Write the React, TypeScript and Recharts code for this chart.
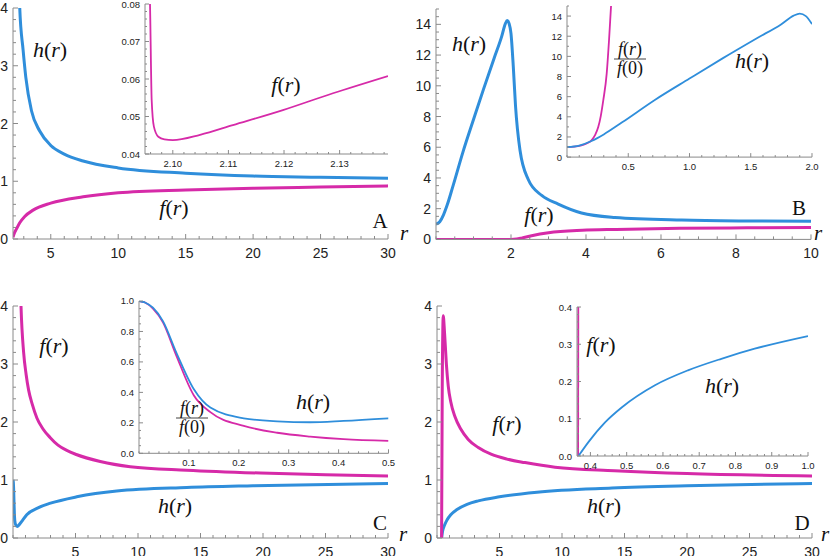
import React from "react";
import { LineChart, Line, XAxis, YAxis } from "recharts";

const BLUE = "#2f8edb";
const PINK = "#d62aa8";
const AXIS = "#8a8a8a";
const LABEL = "#222";
const SANS = "'Liberation Sans', Arial, sans-serif";
const SERIF = "'Liberation Serif', 'Times New Roman', serif";

type Pt = [number, number];

// ---- panel A ----
const aH: Pt[] = [[2.55, 5.2], [2.7, 4.0], [2.95, 3.27], [3.15, 2.8], [3.57, 2.22], [4.18, 1.87], [5, 1.62], [6, 1.47], [7.4, 1.35], [10, 1.23], [15, 1.14], [20, 1.09], [25, 1.07], [30, 1.05]];
const aF: Pt[] = [[2.2, 0.03], [2.3, 0.1], [2.45, 0.17], [2.7, 0.28], [3.07, 0.39], [3.69, 0.5], [5, 0.62], [7.4, 0.73], [10, 0.8], [15, 0.85], [20, 0.88], [25, 0.9], [30, 0.92]];
const aInsetF: Pt[] = [[2.0957, 0.09], [2.0959, 0.08], [2.0962, 0.0544], [2.0966, 0.0473], [2.0974, 0.0446], [2.0985, 0.0439], [2.1, 0.0437], [2.1049, 0.0451], [2.1108, 0.0477], [2.1198, 0.0517], [2.1288, 0.0562], [2.1387, 0.0608]];

// ---- panel B ----
const bH: Pt[] = [[0, 1], [0.1, 1.15], [0.2, 1.6], [0.3, 2.25], [0.45, 3.45], [0.72, 5.7], [1.0, 7.8], [1.27, 9.8], [1.55, 11.8], [1.75, 13.2], [1.85, 14.05], [1.9, 14.25], [1.95, 14.05], [2.0, 13.4], [2.06, 11.3], [2.12, 8.7], [2.24, 5.8], [2.46, 3.9], [2.82, 2.86], [3.26, 2.3], [3.88, 1.72], [4.77, 1.43], [6.55, 1.26], [8.33, 1.2], [10, 1.18]];
const bF: Pt[] = [[0, 0], [2.0, 0], [2.15, 0.02], [2.3, 0.1], [2.55, 0.24], [3.0, 0.43], [3.9, 0.59], [4.8, 0.65], [6.5, 0.72], [8.3, 0.75], [10, 0.77]];
const bInsetH: Pt[] = [[0, 1], [0.1, 1.15], [0.2, 1.6], [0.3, 2.25], [0.45, 3.45], [0.72, 5.7], [1.0, 7.8], [1.27, 9.8], [1.55, 11.8], [1.75, 13.2], [1.85, 14.05], [1.9, 14.25], [1.95, 14.0], [2.0, 13.2]];
const bInsetF: Pt[] = [[0, 1], [0.06, 1.03], [0.118, 1.16], [0.16, 1.35], [0.2, 1.66], [0.23, 2.2], [0.255, 2.98], [0.276, 4.1], [0.296, 5.63], [0.324, 8.28], [0.343, 11.6], [0.36, 15.1], [0.375, 18]];

// ---- panel C ----
const cF: Pt[] = [[0.3, 9], [0.5, 5.2], [0.64, 4.0], [0.85, 3.2], [1.05, 2.82], [1.25, 2.55], [1.55, 2.3], [1.91, 2.07], [2.4, 1.88], [2.98, 1.73], [3.6, 1.6], [4.3, 1.51], [5.06, 1.44], [6.98, 1.32], [9.38, 1.23], [13.9, 1.17], [19.8, 1.12], [25, 1.09], [30, 1.07]];
const cH: Pt[] = [[0, 1.0], [0.028, 0.96], [0.048, 0.87], [0.075, 0.66], [0.11, 0.42], [0.143, 0.3], [0.21, 0.23], [0.343, 0.2], [0.5, 0.23], [0.75, 0.3], [1.1, 0.4], [2, 0.52], [3, 0.6], [5.1, 0.71], [8.3, 0.81], [13.9, 0.87], [19.2, 0.9], [30, 0.94]];
const cInsetH: Pt[] = [[0, 1], [0.012, 0.99], [0.028, 0.956], [0.048, 0.868], [0.075, 0.66], [0.11, 0.42], [0.143, 0.3], [0.21, 0.23], [0.277, 0.21], [0.343, 0.204], [0.41, 0.213], [0.5, 0.23]];
const cInsetF: Pt[] = [[0, 1], [0.012, 0.99], [0.028, 0.95], [0.048, 0.86], [0.075, 0.64], [0.11, 0.38], [0.143, 0.27], [0.21, 0.18], [0.277, 0.135], [0.343, 0.11], [0.41, 0.093], [0.5, 0.081]];

// ---- panel D ----
const dF: Pt[] = [[0.366, 0], [0.42, 2.6], [0.5, 3.83], [0.6, 3.55], [0.75, 3.0], [0.9, 2.62], [1.1, 2.35], [1.44, 2.09], [1.9, 1.88], [2.5, 1.7], [3.3, 1.56], [4.37, 1.44], [5.6, 1.36], [7.04, 1.3], [9.44, 1.22], [14.2, 1.16], [20, 1.11], [30, 1.07]];
const dH: Pt[] = [[0.366, 0], [0.45, 0.12], [0.6, 0.22], [0.8, 0.31], [1.1, 0.4], [1.6, 0.49], [2.4, 0.58], [3.3, 0.64], [5, 0.71], [8, 0.79], [14, 0.86], [20, 0.9], [30, 0.94]];
const dInsetH: Pt[] = [[0.367, 0], [0.395, 0.038], [0.441, 0.091], [0.487, 0.131], [0.578, 0.19], [0.669, 0.23], [0.761, 0.261], [0.853, 0.288], [1.0, 0.322]];
const dInsetF: Pt[] = [[0.366, 0], [0.3668, 0.5]];

// tick labels
const mainXTicks30 = [5, 10, 15, 20, 25, 30];
const mainYTicks4 = [0, 1, 2, 3, 4];
const bXTicks = [2, 4, 6, 8, 10];
const bYTicks = [0, 2, 4, 6, 8, 10, 12, 14];
const aInsetXTicks = [2.1, 2.11, 2.12, 2.13];
const aInsetYTicks = [0.04, 0.05, 0.06, 0.07, 0.08];
const bInsetXTicks = [0.5, 1.0, 1.5, 2.0];
const bInsetYTicks = [0, 2, 4, 6, 8, 10, 12, 14];
const cInsetXTicks = [0.1, 0.2, 0.3, 0.4, 0.5];
const cInsetYTicks = [0, 0.2, 0.4, 0.6, 0.8, 1.0];
const dInsetXTicks = [0.4, 0.5, 0.6, 0.7, 0.8, 0.9, 1.0];
const dInsetYTicks = [0, 0.1, 0.2, 0.3, 0.4];

const toRows = (pts: Pt[]) => pts.map(([r, v]) => ({ r, v }));

const minorTicks = (lo: number, hi: number, step: number) => {
  const out: number[] = [];
  const start = Math.ceil(lo / step - 1e-9);
  const end = Math.floor(hi / step + 1e-9);
  for (let i = start; i <= end; i++) out.push(+(i * step).toFixed(6));
  return out;
};

const allTicks = (majors: number[], lo: number, hi: number, step: number) => {
  const set = [...majors, ...minorTicks(lo, hi, step)].sort((a, b) => a - b);
  return set.filter((v, i) => i === 0 || Math.abs(v - set[i - 1]) > 1e-9);
};

const isMajor = (majors: number[], v: number) => majors.some((m) => Math.abs(m - v) < 1e-7);

type PanelProps = {
  box: [number, number, number, number];
  xDomain: [number, number];
  yDomain: [number, number];
  xMajor: number[];
  xMinor: number;
  yMajor: number[];
  yMinor: number;
  xFmt: (v: number) => string;
  yFmt: (v: number) => string;
  series: { pts: Pt[]; color: string }[];
  inset?: boolean;
};

const PAD_L = 40;
const PAD_B = 30;
const PAD_T = 14;
const PAD_R = 20;

const Panel = ({ box, xDomain, yDomain, xMajor, xMinor, yMajor, yMinor, xFmt, yFmt, series, inset }: PanelProps) => {
  const [x0, y0, x1, y1] = box;
  const fs = inset ? 9.5 : 14;
  const big = inset ? 4 : 5;
  const small = inset ? 2 : 3;
  const xDy = inset ? 13 : 19;
  const yDy = inset ? 3.5 : 5;
  const yGap = 5;

  const xTick = (p: any) => {
    const v = p.payload.value;
    const m = isMajor(xMajor, v);
    return (
      <g>
        <line x1={p.x} x2={p.x} y1={p.y} y2={p.y - (m ? big : small)} stroke={AXIS} strokeWidth={1} />
        {m && (
          <text x={p.x} y={p.y + xDy} textAnchor="middle" fontSize={fs} fill={LABEL} fontFamily={SANS}>
            {xFmt(v)}
          </text>
        )}
      </g>
    );
  };

  const yTick = (p: any) => {
    const v = p.payload.value;
    const m = isMajor(yMajor, v);
    return (
      <g>
        <line x1={p.x} x2={p.x + (m ? big : small)} y1={p.y} y2={p.y} stroke={AXIS} strokeWidth={1} />
        {m && (
          <text x={p.x - yGap} y={p.y + yDy} textAnchor="end" fontSize={fs} fill={LABEL} fontFamily={SANS}>
            {yFmt(v)}
          </text>
        )}
      </g>
    );
  };

  return (
    <div style={{ position: "absolute", left: x0 - PAD_L, top: y0 - PAD_T }}>
      <LineChart
        width={x1 - x0 + PAD_L + PAD_R}
        height={y1 - y0 + PAD_T + PAD_B}
        margin={{ top: PAD_T, right: PAD_R, left: 0, bottom: 0 }}
      >
        <XAxis
          type="number"
          dataKey="r"
          domain={xDomain}
          allowDataOverflow
          ticks={allTicks(xMajor, xDomain[0], xDomain[1], xMinor)}
          interval={0}
          height={PAD_B}
          tickSize={0}
          tickMargin={0}
          tickLine={false}
          axisLine={{ stroke: AXIS }}
          tick={xTick}
        />
        <YAxis
          type="number"
          domain={yDomain}
          allowDataOverflow
          ticks={allTicks(yMajor, yDomain[0], yDomain[1], yMinor)}
          interval={0}
          width={PAD_L}
          tickSize={0}
          tickMargin={0}
          tickLine={false}
          axisLine={{ stroke: AXIS }}
          tick={yTick}
        />
        {series.map((s, i) => (
          <Line
            key={i}
            data={toRows(s.pts)}
            dataKey="v"
            type="monotone"
            stroke={s.color}
            strokeWidth={inset ? 1.8 : 3}
            dot={false}
            isAnimationActive={false}
          />
        ))}
      </LineChart>
    </div>
  );
};

const Fn = ({ x, y, name, arg = "r", size = 22 }: { x: number; y: number; name: string; arg?: string; size?: number }) => (
  <text x={x} y={y} textAnchor="middle" fontFamily={SERIF} fontSize={size} fill="#111">
    <tspan fontStyle="italic">{name}</tspan>(
    {arg === "0" ? <tspan>0</tspan> : <tspan fontStyle="italic">{arg}</tspan>})
  </text>
);

const Frac = ({ x, y }: { x: number; y: number }) => (
  <g>
    <Fn x={x} y={y - 4} name="f" size={18} />
    <line x1={x - 16} x2={x + 16} y1={y} y2={y} stroke="#111" strokeWidth={0.8} />
    <Fn x={x} y={y + 15} name="f" arg="0" size={18} />
  </g>
);

const Letter = ({ x, y, t, italic }: { x: number; y: number; t: string; italic?: boolean }) => (
  <text x={x} y={y} textAnchor="middle" fontFamily={SERIF} fontSize={21} fontStyle={italic ? "italic" : "normal"} fill="#111">
    {t}
  </text>
);

const int = (v: number) => String(v);
const fix1 = (v: number) => v.toFixed(1);
const fix2 = (v: number) => v.toFixed(2);

export default function App() {
  return (
    <div style={{ position: "absolute", left: 0, top: 0, width: 831, height: 556, background: "#fff", overflow: "hidden" }}>
      {/* A */}
      <Panel box={[13, 8, 388, 239]} xDomain={[2.2, 30]} yDomain={[0, 4]} xMajor={mainXTicks30} xMinor={1} yMajor={mainYTicks4} yMinor={0.2} xFmt={int} yFmt={int}
        series={[{ pts: aH, color: BLUE }, { pts: aF, color: PINK }]} />
      <Panel inset box={[145, 4, 388, 154]} xDomain={[2.095, 2.1387]} yDomain={[0.04, 0.08]} xMajor={aInsetXTicks} xMinor={0.002} yMajor={aInsetYTicks} yMinor={0.002} xFmt={fix2} yFmt={fix2}
        series={[{ pts: aInsetF, color: PINK }]} />
      {/* B */}
      <Panel box={[436, 8.6, 811, 239]} xDomain={[0, 10]} yDomain={[0, 15]} xMajor={bXTicks} xMinor={0.5} yMajor={bYTicks} yMinor={0.5} xFmt={int} yFmt={int}
        series={[{ pts: bH, color: BLUE }, { pts: bF, color: PINK }]} />
      <Panel inset box={[567, 5.6, 812, 156.7]} xDomain={[0, 2]} yDomain={[0, 15]} xMajor={bInsetXTicks} xMinor={0.1} yMajor={bInsetYTicks} yMinor={1} xFmt={fix1} yFmt={int}
        series={[{ pts: bInsetF, color: PINK }, { pts: bInsetH, color: BLUE }]} />
      {/* C */}
      <Panel box={[13, 306, 388, 538]} xDomain={[0, 30]} yDomain={[0, 4]} xMajor={mainXTicks30} xMinor={1} yMajor={mainYTicks4} yMinor={0.2} xFmt={int} yFmt={int}
        series={[{ pts: cH, color: BLUE }, { pts: cF, color: PINK }]} />
      <Panel inset box={[138.5, 301, 388, 453.3]} xDomain={[0, 0.5]} yDomain={[0, 1]} xMajor={cInsetXTicks} xMinor={0.02} yMajor={cInsetYTicks} yMinor={0.05} xFmt={fix1} yFmt={fix1}
        series={[{ pts: cInsetF, color: PINK }, { pts: cInsetH, color: BLUE }]} />
      {/* D */}
      <Panel box={[437, 306, 812, 538]} xDomain={[0, 30]} yDomain={[0, 4]} xMajor={mainXTicks30} xMinor={1} yMajor={mainYTicks4} yMinor={0.2} xFmt={int} yFmt={int}
        series={[{ pts: dH, color: BLUE }, { pts: dF, color: PINK }]} />
      <Panel inset box={[577, 306.7, 808, 455.7]} xDomain={[0.363, 1]} yDomain={[0, 0.4]} xMajor={dInsetXTicks} xMinor={0.02} yMajor={dInsetYTicks} yMinor={0.02} xFmt={fix1} yFmt={fix1}
        series={[{ pts: dInsetF, color: PINK }, { pts: dInsetH, color: BLUE }]} />

      <svg width={831} height={556} style={{ position: "absolute", left: 0, top: 0, pointerEvents: "none" }}>
        {/* A */}
        <Fn x={50} y={57} name="h" />
        <Fn x={174} y={215} name="f" />
        <Fn x={286} y={92} name="f" />
        <Letter x={380} y={228} t="A" />
        <Letter x={404} y={240} t="r" italic />
        {/* B */}
        <Fn x={469} y={51} name="h" />
        <Fn x={539} y={222} name="f" />
        <Frac x={630} y={59} />
        <Fn x={752} y={68} name="h" />
        <Letter x={799} y={215} t="B" />
        <Letter x={818} y={240} t="r" italic />
        {/* C */}
        <Fn x={54} y={353} name="f" />
        <Fn x={175} y={513} name="h" />
        <Fn x={313} y={409} name="h" />
        <Frac x={192} y={418} />
        <Letter x={380} y={530} t="C" />
        <Letter x={403} y={541} t="r" italic />
        {/* D */}
        <Fn x={507} y={431} name="f" />
        <Fn x={604} y={513} name="h" />
        <Fn x={601} y={352} name="f" />
        <Fn x={722} y={393} name="h" />
        <Letter x={802} y={530} t="D" />
        <Letter x={825} y={541} t="r" italic />
      </svg>
    </div>
  );
}
